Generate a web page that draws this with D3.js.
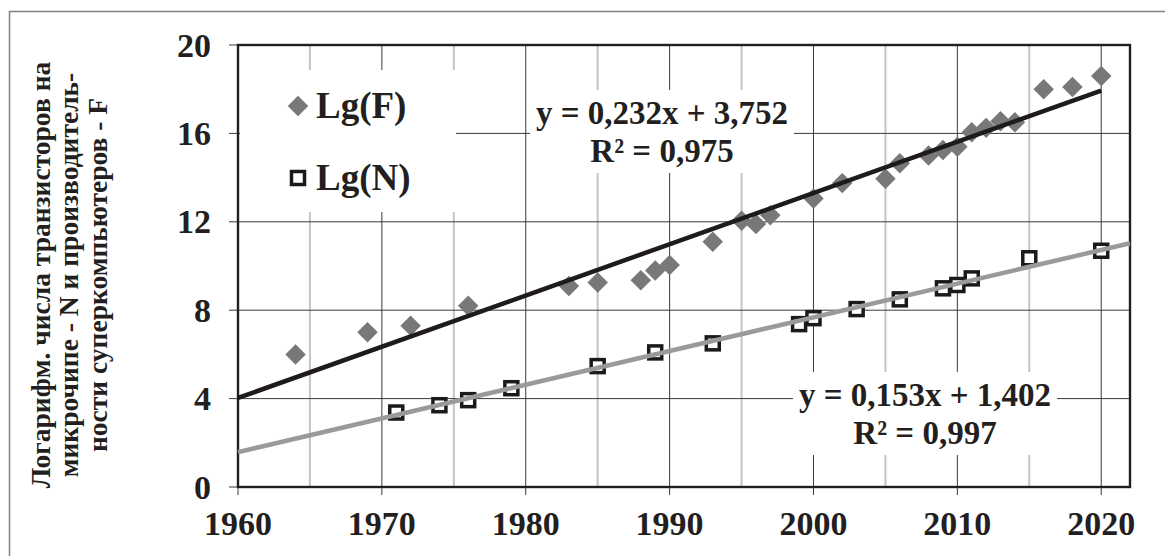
<!DOCTYPE html>
<html>
<head>
<meta charset="utf-8">
<script src="https://cdn.jsdelivr.net/npm/d3@7"></script>
<style>
  body { margin: 0; background: #fff; }
  text { font-family: "Liberation Serif", "Times New Roman", serif; font-weight: bold; fill: #231f20; }
</style>
</head>
<body>
<script>
// F - supercomputer performance, lg
const fYears = [1964, 1969, 1972, 1976, 1983, 1985, 1988, 1989, 1990, 1993, 1995, 1996, 1997, 2000,
                2002, 2005, 2006, 2008, 2009, 2010, 2011, 2012, 2013, 2014, 2016, 2018, 2020];
const fValues = [6.0, 7.0, 7.3, 8.2, 9.1, 9.25, 9.35, 9.8, 10.05, 11.1, 12.05, 11.9, 12.3, 13.05,
                 13.75, 13.95, 14.65, 15.0, 15.25, 15.4, 16.05, 16.25, 16.55, 16.5, 18.0, 18.1, 18.6];

// N - transistors on a chip, lg
const nYears = [1971, 1974, 1976, 1979, 1985, 1989, 1993, 1999, 2000, 2003, 2006, 2009, 2010, 2011, 2015, 2020];
const nValues = [3.37, 3.7, 3.93, 4.47, 5.47, 6.09, 6.5, 7.37, 7.64, 8.05, 8.49, 8.99, 9.14, 9.44, 10.35, 10.69];

// trend line ends
const trendFYears = [1960, 2020];
const trendFValues = [4.03, 17.94];
const trendNYears = [1960, 2022];
const trendNValues = [1.58, 11.03];

const xTicks = [1960, 1970, 1980, 1990, 2000, 2010, 2020];
const xMinor = [1965, 1975, 1985, 1995, 2005, 2015];
const yTicks = [0, 4, 8, 12, 16, 20];

const legendNames = ["Lg(F)", "Lg(N)"];
const eqF = ["y = 0,232x + 3,752", "R² = 0,975"];
const eqN = ["y = 0,153x + 1,402", "R² = 0,997"];
const yTitle = ["Логарифм. числа транзисторов на", "микрочипе - N и производитель-", "ности суперкомпьютеров - F"];

const W = 1165, H = 556;
const plotLeft = 238, plotRight = 1130, plotTop = 45, plotBottom = 487;

let svg = d3.select("body").append("svg")
    .attr("width", W)
    .attr("height", H);

// outer frame (only top and left are visible)
svg.append("path")
    .attr("d", `M9.5,${H} V11.5 H${W}`)
    .attr("fill", "none")
    .attr("stroke", "#808080")
    .attr("stroke-width", 1.5);

let x = d3.scaleLinear().domain([1960, 2022]).range([plotLeft, plotRight]);
let y = d3.scaleLinear().domain([0, 20]).range([plotBottom, plotTop]);

// grid
svg.append("g").selectAll("line")
    .data(xMinor)
    .enter().append("line")
    .attr("x1", d => x(d)).attr("x2", d => x(d))
    .attr("y1", plotTop).attr("y2", plotBottom)
    .attr("stroke", "#c4c4c8")
    .attr("stroke-width", 2);

svg.append("g").selectAll("line")
    .data(xTicks)
    .enter().append("line")
    .attr("x1", d => x(d)).attr("x2", d => x(d))
    .attr("y1", plotTop).attr("y2", plotBottom + 8)
    .attr("stroke", "#3a3a3a")
    .attr("stroke-width", 1);

svg.append("g").selectAll("line")
    .data(yTicks)
    .enter().append("line")
    .attr("x1", plotLeft - 9).attr("x2", plotRight)
    .attr("y1", d => y(d)).attr("y2", d => y(d))
    .attr("stroke", "#3a3a3a")
    .attr("stroke-width", 1);

// white boxes: legend and equations
svg.append("rect")
    .attr("x", plotLeft + 2).attr("y", 70)
    .attr("width", 216).attr("height", 142)
    .attr("fill", "#fff");

// cx - centre of the label, by - baseline of its first line
function eqBox(lines, cx, by) {
    svg.append("rect")
        .attr("x", cx - 132).attr("y", by - 34)
        .attr("width", 264).attr("height", 83)
        .attr("fill", "#fff");
    svg.append("g").selectAll("text")
        .data(lines)
        .enter().append("text")
        .attr("x", cx)
        .attr("y", (d, i) => by + i * 38)
        .attr("text-anchor", "middle")
        .attr("font-size", 33)
        .text(d => d);
}
eqBox(eqF, 662, 124);
eqBox(eqN, 925, 406);

// plot frame
svg.append("rect")
    .attr("x", plotLeft).attr("y", plotTop)
    .attr("width", plotRight - plotLeft).attr("height", plotBottom - plotTop)
    .attr("fill", "none")
    .attr("stroke", "#231f20")
    .attr("stroke-width", 2.4);

// tick labels
svg.append("g").selectAll("text")
    .data(yTicks)
    .enter().append("text")
    .attr("x", 211)
    .attr("y", d => y(d) + 11.5)
    .attr("text-anchor", "end")
    .attr("font-size", 34)
    .text(d => d);

svg.append("g").selectAll("text")
    .data(xTicks)
    .enter().append("text")
    .attr("x", d => x(d))
    .attr("y", 535)
    .attr("text-anchor", "middle")
    .attr("font-size", 34)
    .text(d => d);

// y title
svg.append("g")
    .attr("transform", "translate(78,275) rotate(-90)")
    .selectAll("text")
    .data(yTitle)
    .enter().append("text")
    .attr("x", 0)
    .attr("y", (d, i) => (i - 1) * 28.5)
    .attr("text-anchor", "middle")
    .attr("font-size", 27.5)
    .text(d => d);

// markers
let diamond = d3.symbol().type(d3.symbolSquare).size(210);

let fData = fYears.map((d, i) => ({ year: d, value: fValues[i] }));
let nData = nYears.map((d, i) => ({ year: d, value: nValues[i] }));

svg.append("g").selectAll("path")
    .data(fData)
    .enter().append("path")
    .attr("d", diamond)
    .attr("transform", d => `translate(${x(d.year)},${y(d.value)}) rotate(45)`)
    .attr("fill", "#787878");

svg.append("g").selectAll("rect")
    .data(nData)
    .enter().append("rect")
    .attr("x", d => x(d.year) - 6.5)
    .attr("y", d => y(d.value) - 6.5)
    .attr("width", 13).attr("height", 13)
    .attr("fill", "#fff")
    .attr("stroke", "#1a1a1a")
    .attr("stroke-width", 3.5);

// trend lines
let line = d3.line().x(d => x(d[0])).y(d => y(d[1]));

svg.append("path")
    .datum(trendFYears.map((d, i) => [d, trendFValues[i]]))
    .attr("d", line)
    .attr("stroke", "#1f1b1c")
    .attr("stroke-width", 4.5)
    .attr("fill", "none");

svg.append("path")
    .datum(trendNYears.map((d, i) => [d, trendNValues[i]]))
    .attr("d", line)
    .attr("stroke", "#9a9a9a")
    .attr("stroke-width", 4.5)
    .attr("fill", "none");

// legend
let legend = svg.append("g");
legend.append("path")
    .attr("d", diamond)
    .attr("transform", "translate(298,106) rotate(45)")
    .attr("fill", "#787878");
legend.append("rect")
    .attr("x", 291.5).attr("y", 171.5)
    .attr("width", 13).attr("height", 13)
    .attr("fill", "#fff")
    .attr("stroke", "#1a1a1a")
    .attr("stroke-width", 3.5);
legend.selectAll("text")
    .data(legendNames)
    .enter().append("text")
    .attr("x", 316)
    .attr("y", (d, i) => 118 + i * 72)
    .attr("font-size", 37)
    .text(d => d);
</script>
</body>
</html>
